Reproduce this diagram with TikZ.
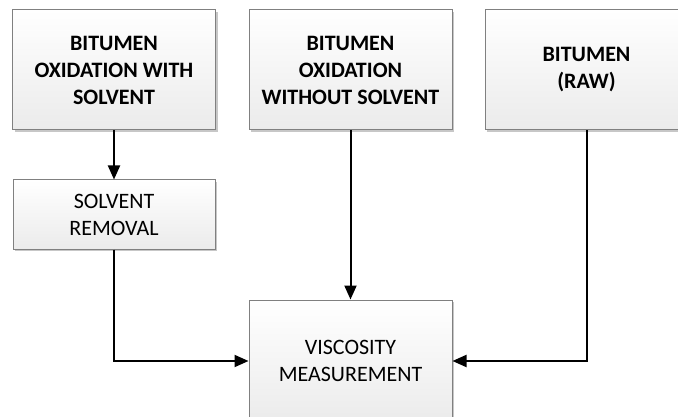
\documentclass[tikz,border=0pt]{standalone}
\usepackage{fontspec}
\setmainfont{Carlito}
\usetikzlibrary{arrows.meta,shadows}
\definecolor{boxline}{HTML}{808080}
\definecolor{boxlow}{HTML}{EBEBEB}

\begin{document}
\begin{tikzpicture}[x=1pt,y=-1pt,
    procbox/.style={draw=boxline,line width=1pt,top color=white,bottom color=boxlow,
      drop shadow={shadow xshift=2pt,shadow yshift=-2pt,fill=black!22,opacity=1},
      align=center,inner sep=0pt,font=\fontsize{22}{27}\selectfont},
    topbox/.style={procbox,minimum width=203pt,minimum height=120pt,font=\fontsize{22}{27}\selectfont\bfseries},
    flow/.style={line width=2pt,-{Triangle[length=14pt,width=12pt]}}]
  \useasboundingbox (0,0) rectangle (678,417);
  \clip (0,0) rectangle (678,417);
  \foreach \n/\x/\lbl in {ox1/114/{BITUMEN\\OXIDATION WITH\\SOLVENT},
                          ox2/350.5/{BITUMEN\\OXIDATION\\WITHOUT SOLVENT},
                          raw/586.5/{BITUMEN\\(RAW)}}{
    \node[topbox] (\n) at (\x,70) {\lbl};
  }
  \node[procbox,minimum width=202pt,minimum height=69pt] (rem) at (114,214.5)
    {SOLVENT\\REMOVAL};
  \node[procbox,minimum width=203pt,minimum height=122pt] (visc) at (350.5,361)
    {VISCOSITY\\MEASUREMENT};
  \draw[flow] (ox1) -- (rem);
  \draw[flow] (ox2) -- (visc);
  \draw[flow] (rem.south) |- (visc.west);
  \draw[flow] (raw.south) |- (visc.east);
\end{tikzpicture}
\end{document}
